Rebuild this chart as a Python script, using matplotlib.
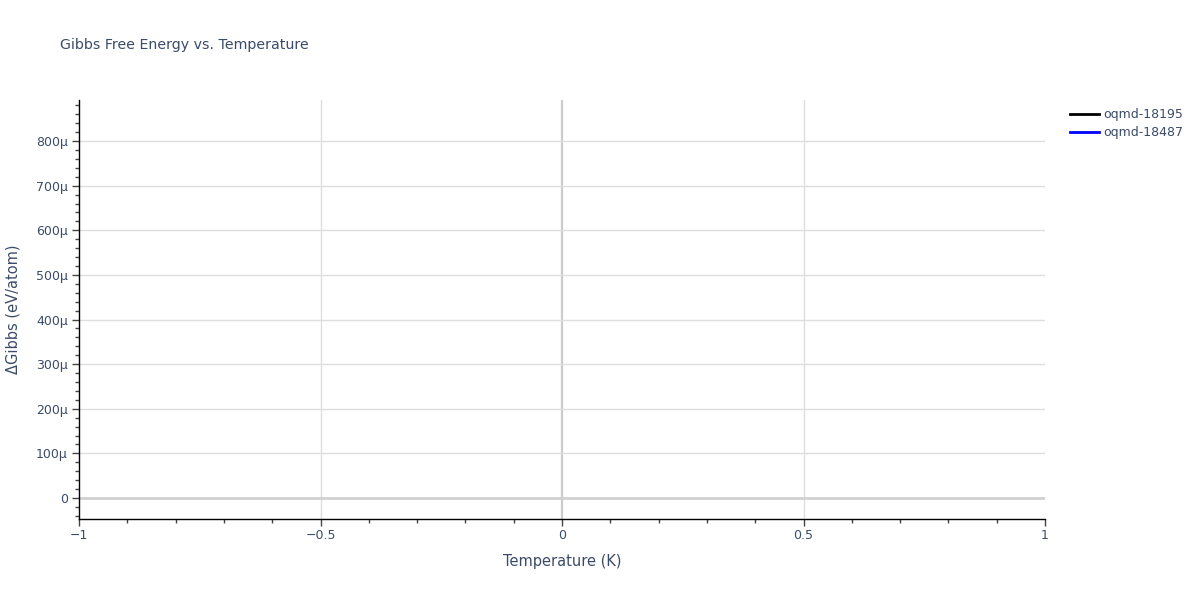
import matplotlib
matplotlib.use('Agg')
import matplotlib.pyplot as plt
from matplotlib.ticker import FuncFormatter, MultipleLocator
from matplotlib.lines import Line2D

# data (no visible points in the reference)
series_names = ['oqmd-18195', 'oqmd-18487']
series_colors = ['black', 'blue']
temps_18195 = []
gibbs_18195 = []
temps_18487 = []
gibbs_18487 = []

x_range = [-1, 1]
y_range = [-47e-6, 892e-6]

txt = '#3b4b68'
grid = '#dedede'

plt.rcParams['font.family'] = ['DejaVu Sans']

fig = plt.figure(figsize=(12, 6), dpi=100)
ax = fig.add_axes([79/1200, 1 - 519/600, (1045-79)/1200, (519-100)/600])

ax.plot(temps_18195, gibbs_18195, color=series_colors[0], lw=2)
ax.plot(temps_18487, gibbs_18487, color=series_colors[1], lw=2)

ax.set_xlim(x_range)
ax.set_ylim(y_range)

ax.xaxis.set_major_locator(MultipleLocator(0.5))
ax.xaxis.set_minor_locator(MultipleLocator(0.1))
ax.yaxis.set_major_locator(MultipleLocator(100e-6))
ax.yaxis.set_minor_locator(MultipleLocator(20e-6))

def xfmt(v, pos):
    if abs(v) < 1e-9:
        return '0'
    return ('%g' % v).replace('-', '\u2212')

def yfmt(v, pos):
    n = int(round(v * 1e6))
    if n == 0:
        return '0'
    return '%d\u00b5' % n

ax.xaxis.set_major_formatter(FuncFormatter(xfmt))
ax.yaxis.set_major_formatter(FuncFormatter(yfmt))

for xv in [-0.5, 0.5]:
    ax.axvline(xv, color=grid, lw=1, zorder=0)
ax.axvline(0, color='#cccccc', lw=1.6, zorder=0)
for yv in range(100, 900, 100):
    ax.axhline(yv * 1e-6, color=grid, lw=1, zorder=0)
ax.axhline(0, color='#d0d0d0', lw=2, zorder=0.5)

for s in ['top', 'right']:
    ax.spines[s].set_visible(False)
for s in ['left', 'bottom']:
    ax.spines[s].set_color('black')
    ax.spines[s].set_linewidth(1)

ax.tick_params(axis='both', which='major', direction='out', length=5, width=1,
               color='#444444', labelcolor=txt, labelsize=9)
ax.tick_params(axis='both', which='minor', direction='out', length=3, width=1,
               color='#444444')
ax.tick_params(axis='x', which='major', pad=2)
ax.tick_params(axis='y', which='major', pad=3)

ax.set_xlabel('Temperature (K)', color=txt, fontsize=10.5, labelpad=9)
ax.set_ylabel('\u0394Gibbs (eV/atom)', color=txt, fontsize=10.5, labelpad=11)

fig.text(60/1200, 1 - 45/600, 'Gibbs Free Energy vs. Temperature', color=txt,
         fontsize=10.2, va='center', ha='left')

handles = [Line2D([], [], color=c, lw=2) for c in series_colors]
leg = fig.legend(handles, series_names, loc='upper left',
                 bbox_to_anchor=(1065/1200, 1 - 103/600), frameon=False,
                 fontsize=9, handlelength=2.3, labelspacing=0.42,
                 handletextpad=0.35, borderaxespad=0)
for t in leg.get_texts():
    t.set_color(txt)

fig.savefig('out.png', dpi=100)
